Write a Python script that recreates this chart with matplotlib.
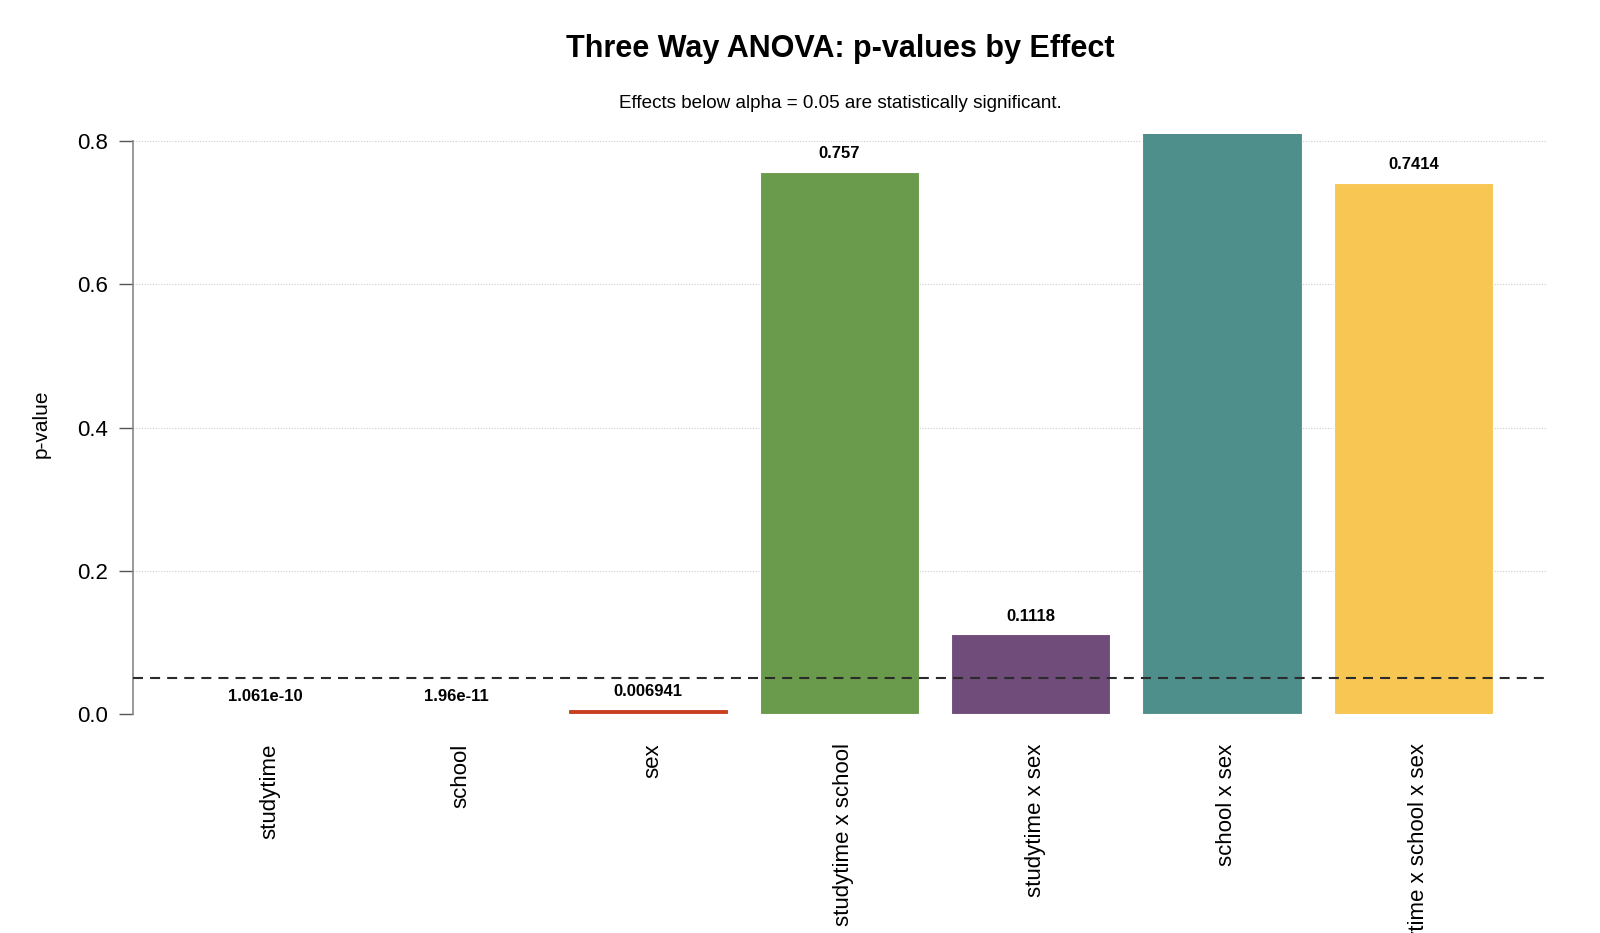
import numpy as np
import matplotlib
matplotlib.use("Agg")
import matplotlib.pyplot as plt
import matplotlib.transforms as mtransforms

plt.rcParams['font.family'] = ['Liberation Sans', 'DejaVu Sans']

# 数据
effects = ["studytime", "school", "sex", "studytime x school",
           "studytime x sex", "school x sex", "studytime x school x sex"]
p_values = [1.061e-10, 1.96e-11, 0.006941, 0.757, 0.1118, 0.82, 0.7414]
p_labels = ["1.061e-10", "1.96e-11", "0.006941", "0.757", "0.1118", "0.82", "0.7414"]
bar_colors = ["#2E4C6D", "#E07B39", "#C8401F", "#6A9A4B",
              "#6F4C7A", "#4E8F8B", "#F7C653"]
alpha = 0.05
y_ticks = [0.0, 0.2, 0.4, 0.6, 0.8]

fig = plt.figure(figsize=(16, 9.33), dpi=100)
ax = fig.add_axes([0.0831, 0.2344, 0.966 - 0.0831, 0.8567 - 0.2344])

x = np.arange(len(effects)) * 1.2
span = x[-1] - x[0] + 1.0
ax.set_xlim(x[0] - 0.5 - 0.04 * span, x[-1] + 0.5 + 0.04 * span)
ax.set_ylim(0, 0.8102)

# 网格线
for yv in y_ticks:
    ax.axhline(yv, color="#cccccc", linestyle=(0, (1, 1.5)), linewidth=0.8, zorder=0)

ax.bar(x, p_values, width=1.0, color=bar_colors, edgecolor="white",
       linewidth=0.8, zorder=2)

# 显著性阈值线
ax.axhline(alpha, color="#2b2b2b", linewidth=1.5, dashes=(4.8, 3.4), zorder=3)

# 柱顶数值标签（超出绘图区的会被裁掉）
for xi, v, lab in zip(x, p_values, p_labels):
    ax.annotate(lab, (xi, v), xytext=(0, 13), textcoords="offset points",
                ha="center", va="center", fontsize=12, fontweight="bold",
                annotation_clip=True, clip_on=True)

for s in ["top", "right", "bottom"]:
    ax.spines[s].set_visible(False)
ax.spines["left"].set_bounds(0, 0.8)
ax.spines["left"].set_color("#888888")
ax.spines["left"].set_linewidth(1.2)

ax.set_yticks(y_ticks)
ax.set_yticklabels([f"{t:.1f}" for t in y_ticks], fontsize=16)
ax.tick_params(axis="y", length=10, width=1, color="#555555", pad=8)

ax.set_xticks(x)
ax.set_xticklabels(effects, rotation=90, fontsize=16, va="top")
ax.tick_params(axis="x", length=0, pad=21)
# 竖排标签稍微右移
shift = mtransforms.ScaledTranslation(4.5 / 100, 0, fig.dpi_scale_trans)
for t in ax.get_xticklabels():
    t.set_transform(t.get_transform() + shift)

ax.set_ylabel("p-value", fontsize=15)
ax.yaxis.set_label_coords(-0.058, 0.5)

fig.text(0.525, 1 - 49 / 933, "Three Way ANOVA: p-values by Effect",
         ha="center", va="center", fontsize=22, fontweight="bold")
fig.text(0.525, 1 - 103 / 933, "Effects below alpha = 0.05 are statistically significant.",
         ha="center", va="center", fontsize=13.6)

fig.savefig("out.png", dpi=100)
